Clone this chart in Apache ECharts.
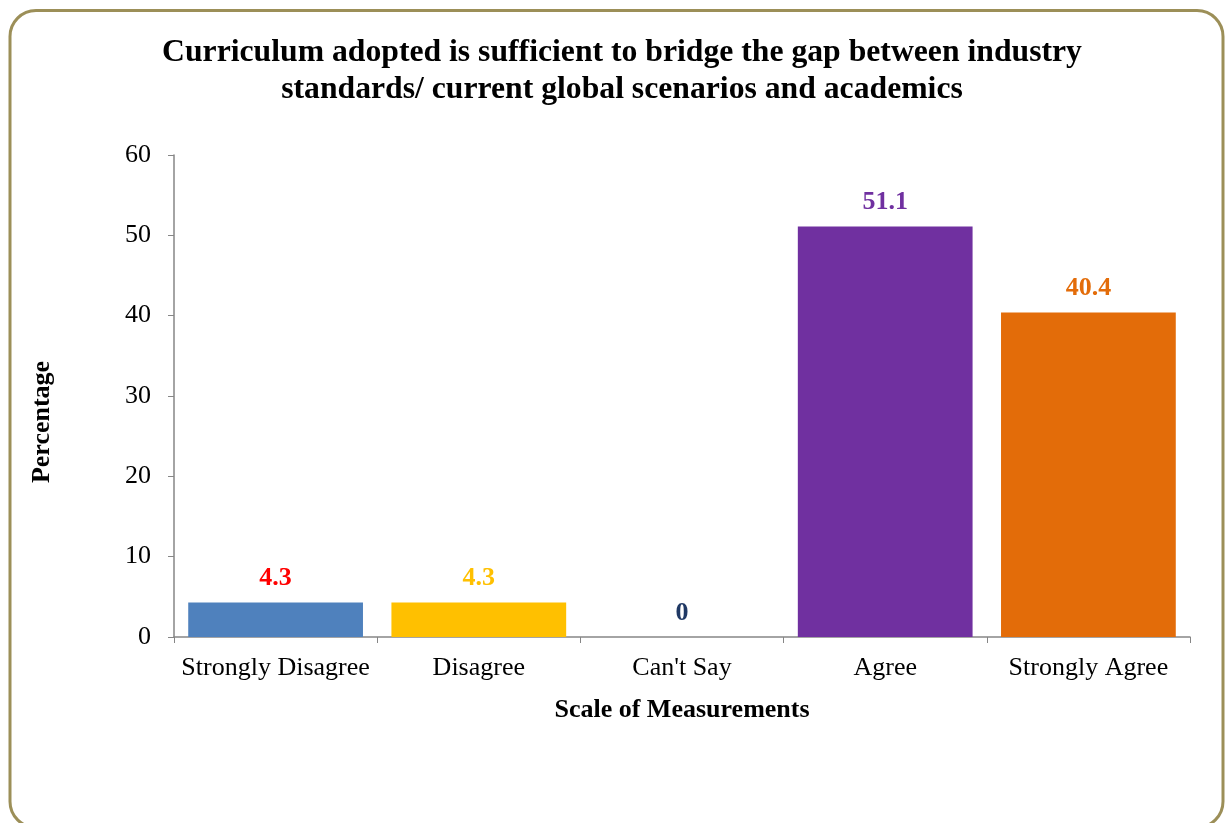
<!DOCTYPE html>
<html><head><meta charset="utf-8">
<script src="https://cdn.jsdelivr.net/npm/echarts@6/dist/echarts.min.js"></script>
<style>html,body{margin:0;padding:0;background:#fff}#c{width:1225px;height:823px}</style>
</head><body><div id="c"></div>
<script>
const categories = ["Strongly Disagree", "Disagree", "Can't Say", "Agree", "Strongly Agree"];
const values = [4.3, 4.3, 0, 51.1, 40.4];
const barColors = ["#4F81BD", "#FFC000", "#1F3864", "#7030A0", "#E36C09"];
const labelColors = ["#FF0000", "#FFC000", "#1F3864", "#7030A0", "#E36C09"];
const yTicks = [0, 10, 20, 30, 40, 50, 60];

const serif = "'Liberation Serif', 'Times New Roman', serif";
const chart = echarts.init(document.getElementById('c'), null, {renderer: 'canvas'});
chart.setOption({
  backgroundColor: '#ffffff',
  animation: false,
  graphic: [{
    type: 'rect',
    shape: {x: 10, y: 10.5, width: 1213, height: 817, r: 26},
    style: {fill: 'none', stroke: '#9C8F58', lineWidth: 3},
    z: -1
  }],
  title: {
    text: 'Curriculum adopted is sufficient to bridge the gap between industry\nstandards/ current global scenarios and academics',
    left: 617, top: 29, textAlign: 'center',
    textStyle: {fontFamily: serif, fontWeight: 'bold', fontSize: 31.7, lineHeight: 37, color: '#000'}
  },
  grid: {left: 174, right: 35, top: 155, bottom: 186, containLabel: false},
  xAxis: {
    type: 'category', data: categories,
    name: 'Scale of Measurements', nameLocation: 'middle', nameGap: 60,
    nameTextStyle: {fontFamily: serif, fontWeight: 'bold', fontSize: 26, color: '#000'},
    axisLine: {lineStyle: {color: '#868686', width: 1.5}},
    axisTick: {show: true, length: 6, lineStyle: {color: '#868686'}},
    axisLabel: {fontFamily: serif, fontSize: 26, color: '#000', margin: 18, interval: 0}
  },
  yAxis: {
    type: 'value', min: yTicks[0], max: yTicks[yTicks.length-1], interval: 10,
    name: 'Percentage', nameLocation: 'middle', nameGap: 119, nameRotate: 90,
    nameTextStyle: {fontFamily: serif, fontWeight: 'bold', fontSize: 26, color: '#000', padding: [0, 52, 0, 0]},
    axisLine: {show: true, lineStyle: {color: '#868686', width: 1.5}},
    axisTick: {show: true, length: 6, lineStyle: {color: '#868686'}},
    splitLine: {show: false},
    axisLabel: {fontFamily: serif, fontSize: 26, color: '#000', margin: 23}
  },
  series: [{
    type: 'bar', barCategoryGap: '14%',
    data: values.map((v, i) => ({
      value: v,
      itemStyle: {color: barColors[i]},
      label: {color: labelColors[i]}
    })),
    label: {show: true, position: 'top', distance: 11,
      fontFamily: serif, fontWeight: 'bold', fontSize: 26}
  }]
});
</script></body></html>
